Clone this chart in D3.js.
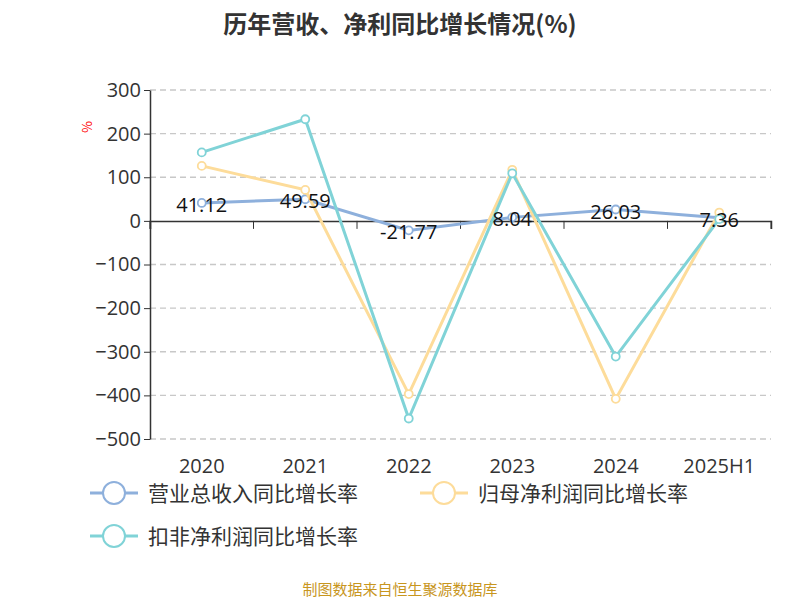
<!DOCTYPE html>
<html><head><meta charset="utf-8">
<script src="https://cdn.jsdelivr.net/npm/d3@7"></script>
<style>body{margin:0;background:#fff}text{font-family:"Noto Sans CJK SC","Noto Sans",sans-serif}</style>
</head><body><svg id="c" width="800" height="600"></svg>
<script>
var years = ["2020", "2021", "2022", "2023", "2024", "2025H1"];
var revenue = [41.12, 49.59, -21.77, 8.04, 26.03, 7.36];
var netProfit = [126, 71, -397, 117, -408, 19];
var deductProfit = [157, 233, -453, 109, -311, 4];
var yTicks = [300, 200, 100, 0, -100, -200, -300, -400, -500];
var seriesNames = ["营业总收入同比增长率", "归母净利润同比增长率", "扣非净利润同比增长率"];
var colors = ["#8eb0dc", "#fddc9a", "#80d3d7"];

var svg = d3.select("#c");
var plotLeft = 150, plotRight = 771, plotTop = 90, plotBottom = 439;

var x = d3.scaleBand().domain(years).range([plotLeft, plotRight]);
var y = d3.scaleLinear().domain([-500, 300]).range([plotBottom, plotTop]);

svg.append("text").attr("x", 400).attr("y", 33).attr("text-anchor", "middle")
  .attr("font-size", 24).attr("font-weight", "bold").attr("fill", "#333")
  .text("历年营收、净利同比增长情况(%)");

// grid
svg.selectAll("line.grid").data(yTicks.filter((t) => t !== 0)).enter().append("line")
  .attr("x1", plotLeft).attr("x2", plotRight).attr("y1", (d) => y(d)).attr("y2", (d) => y(d))
  .attr("stroke", "#c8c8c8").attr("stroke-dasharray", "6,4").attr("stroke-width", 1.3);

// y axis
var yAxis = svg.append("g").attr("transform", `translate(${plotLeft},0)`)
  .call(d3.axisLeft(y).tickValues(yTicks).tickSize(6).tickSizeOuter(0));
yAxis.select(".domain").attr("stroke", "#333").attr("stroke-width", 1.5);
yAxis.selectAll(".tick line").attr("stroke", "#333");
yAxis.selectAll("text").attr("font-size", 20).attr("fill", "#333").attr("x", -9)
  .style("font-family", "'Open Sans',sans-serif");

svg.append("text").attr("transform", "translate(92,133) rotate(-90)")
  .attr("font-size", 13).attr("fill", "red").text("%");

// x axis at zero
var xAxis = svg.append("g").attr("transform", `translate(0,${y(0)})`)
  .call(d3.axisBottom(x).tickSize(8).tickSizeOuter(8).tickFormat(""));
xAxis.select(".domain").attr("stroke", "#333").attr("stroke-width", 1.5);
xAxis.selectAll(".tick line").attr("stroke", "#333").attr("transform", `translate(${-x.bandwidth() / 2},0)`);
svg.append("line").attr("x1", plotRight).attr("x2", plotRight).attr("y1", y(0)).attr("y2", y(0) + 8).attr("stroke", "#333");

svg.selectAll("text.xl").data(years).enter().append("text")
  .attr("x", (d) => x(d) + x.bandwidth() / 2).attr("y", 473).attr("text-anchor", "middle")
  .attr("font-size", 20).attr("fill", "#333").style("font-family", "'Open Sans',sans-serif")
  .text((d) => d);

var cx = (i) => x(years[i]) + x.bandwidth() / 2;
var line = d3.line().x((d, i) => cx(i)).y((d) => y(d));
[revenue, netProfit, deductProfit].forEach((s, k) => {
  svg.append("path").datum(s).attr("d", line).attr("fill", "none")
    .attr("stroke", colors[k]).attr("stroke-width", 3);
  svg.selectAll(null).data(s).enter().append("circle")
    .attr("cx", (d, i) => cx(i)).attr("cy", (d) => y(d)).attr("r", 4)
    .attr("fill", "#fff").attr("stroke", colors[k]).attr("stroke-width", 1.8);
});
svg.selectAll("text.lab").data(revenue).enter().append("text")
  .attr("x", (d, i) => cx(i)).attr("y", (d) => y(d) + 9).attr("text-anchor", "middle")
  .attr("font-size", 20).attr("fill", "#111").style("font-family", "'Open Sans',sans-serif")
  .text((d) => d.toFixed(2));

// legend
var legendPos = [[90, 493], [420, 493], [90, 536]];
seriesNames.forEach((n, k) => {
  var g = svg.append("g").attr("transform", `translate(${legendPos[k][0]},${legendPos[k][1]})`);
  g.append("line").attr("x1", 0).attr("x2", 48).attr("stroke", colors[k]).attr("stroke-width", 3);
  g.append("circle").attr("cx", 24).attr("r", 11).attr("fill", "#fff").attr("stroke", colors[k]).attr("stroke-width", 2);
  g.append("text").attr("x", 58).attr("y", 8).attr("font-size", 21).attr("fill", "#333").text(n);
});

svg.append("text").attr("x", 400).attr("y", 595).attr("text-anchor", "middle")
  .attr("font-size", 15).attr("fill", "#c8961e").text("制图数据来自恒生聚源数据库");
</script></body></html>
